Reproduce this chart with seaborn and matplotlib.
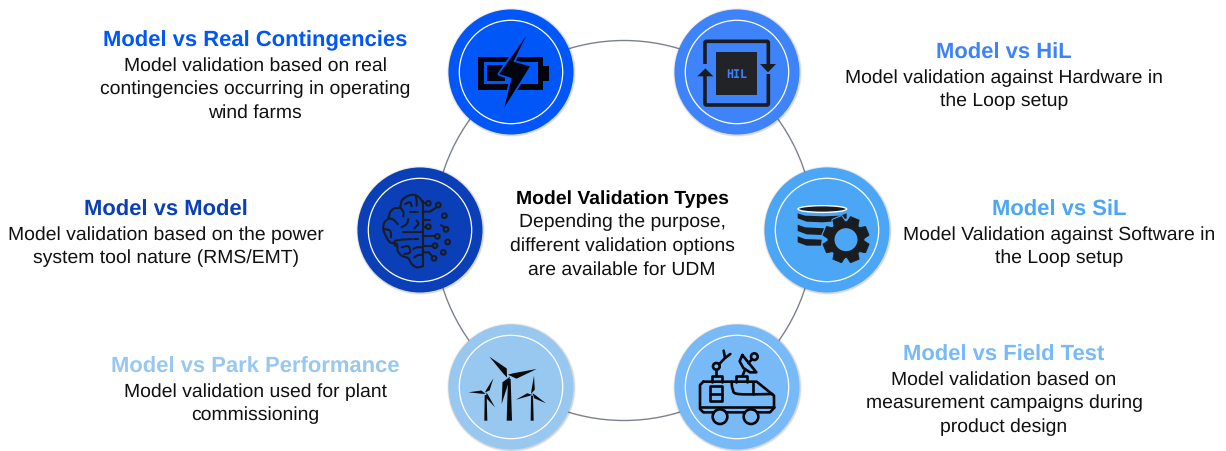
import numpy as np
import pandas as pd
import matplotlib
matplotlib.use("Agg")
import matplotlib.pyplot as plt
from matplotlib.patches import Circle, Polygon, Ellipse, FancyBboxPatch
import seaborn as sns

sns.set_theme(style="white")
plt.rcParams['font.family'] = ['Liberation Sans', 'DejaVu Sans']
plt.rcParams['text.hinting'] = 'no_hinting'

# ---------- content ----------
titles = ["Model vs Real Contingencies", "Model vs HiL", "Model vs Model",
          "Model vs SiL", "Model vs Park Performance", "Model vs Field Test"]
descriptions = [
    ["Model validation based on real", "contingencies occurring in operating", "wind farms"],
    ["Model validation against Hardware in", "the Loop setup"],
    ["Model validation based on the power", "system tool nature (RMS/EMT)"],
    ["Model Validation against Software in", "the Loop setup"],
    ["Model validation used for plant", "commissioning"],
    ["Model validation based on", "measurement campaigns during", "product design"],
]
colors = ["#0056F6", "#3F83FA", "#0A3FB8", "#4BA6F6", "#98C8F0", "#78BAF8"]
node_x = [511, 737, 420, 827, 511, 737]
node_y = [73, 73, 231, 231, 388, 388]
text_x = [255, 1004, 166, 1059, 255, 1004]
title_y = [41, 53, 210, 210, 367, 355]
center_title = "Model Validation Types"
center_lines = ["Depending the purpose,", "different validation options", "are available for UDM"]
INK = "#1b1c1f"

fig = plt.figure(figsize=(12.26, 4.52), dpi=100)
ax = fig.add_axes([0, 0, 1, 1])
ax.set_xlim(0, 1226)
ax.set_ylim(452, 0)
ax.axis("off")

# connecting ring
ax.add_patch(Circle((624, 231.5), 190, fill=False, ec="#7b818c", lw=1.0, zorder=1))

# nodes
PX = 0.72
df = pd.DataFrame({"x": node_x, "y": node_y, "name": titles})
for grow, a in ((1.8, .07), (1.0, .13)):
    sns.scatterplot(data=df, x="x", y="y", s=((62.5 + grow) * 2 * PX) ** 2, color="#333333",
                    alpha=a, linewidth=0, legend=False, ax=ax, zorder=2)
sns.scatterplot(data=df, x="x", y="y", hue="name", palette=dict(zip(titles, colors)),
                s=(62.5 * 2 * PX) ** 2, linewidth=0, legend=False, ax=ax, zorder=3)
ax.scatter(node_x, node_y, s=(51.7 * 2 * PX) ** 2, facecolors="none", edgecolors="white",
           linewidths=0.9, zorder=4)
ax.set_xlabel(""); ax.set_ylabel("")
ax.set_xlim(0, 1226); ax.set_ylim(452, 0)

# text
TS, BS = 15.87, 13.95
LH = 23.6
for i, t in enumerate(titles):
    ax.text(text_x[i], title_y[i], t, color=colors[i], fontsize=TS, fontweight="bold",
            ha="center", va="center")
    for j, ln in enumerate(descriptions[i]):
        ax.text(text_x[i], title_y[i] + 25.0 + j * LH, ln, color="#111111", fontsize=BS,
                ha="center", va="center")
ax.text(622, 199.5, center_title, color="#000000", fontsize=13.95, fontweight="bold", ha="center", va="center")
for j, ln in enumerate(center_lines):
    ax.text(622, 222.5 + j * 23.5, ln, color="#111111", fontsize=BS, ha="center", va="center")

# ---------- icon helpers (zoom-crop coordinates -> pixels) ----------
def Z(ox, oy, pts):
    return [(ox + x / 3, oy + y / 3) for x, y in pts]
def poly(ox, oy, pts, fc=INK, ec="none", lw=0, z=6):
    ax.add_patch(Polygon(Z(ox, oy, pts), closed=True, fc=fc, ec=ec, lw=lw, zorder=z, joinstyle="round"))
def rect(ox, oy, x0, y0, x1, y1, **k):
    poly(ox, oy, [(x0, y0), (x1, y0), (x1, y1), (x0, y1)], **k)
def soften(pts, n=8):
    p = np.array(pts, float)
    if len(p) < 3:
        return p
    q = np.vstack([p[0], p, p[-1]])
    out = []
    for i in range(1, len(q) - 2):
        for t in np.linspace(0, 1, n, endpoint=False):
            out.append(.5 * (2 * q[i] + (q[i + 1] - q[i - 1]) * t +
                             (2 * q[i - 1] - 5 * q[i] + 4 * q[i + 1] - q[i + 2]) * t ** 2 +
                             (3 * q[i] - q[i - 1] - 3 * q[i + 1] + q[i + 2]) * t ** 3))
    out.append(p[-1])
    return np.array(out)
def line(ox, oy, pts, lw=1.5, c=INK, z=6, curved=False):
    p = np.array(Z(ox, oy, soften(pts) if curved else pts))
    ax.plot(p[:, 0], p[:, 1], color=c, lw=lw, zorder=z, solid_capstyle="round", solid_joinstyle="round")
def ring(ox, oy, x, y, r, fc="none", lw=1.5, z=6, ec=INK):
    ax.add_patch(Circle((ox + x / 3, oy + y / 3), r / 3, fc=fc, ec=ec, lw=lw, zorder=z))

# battery
ox, oy, b = 470, 30, colors[0]
K = "#02040d"
rect(ox, oy, 25, 83, 218, 182, fc=K)
rect(ox, oy, 218, 112, 237, 156, fc=K)
rect(ox, oy, 43, 100, 204, 165, fc=b)
rect(ox, oy, 50, 108, 105, 157, fc=K)
bolt = [(168, 22), (130, 98), (180, 112), (103, 235), (125, 147), (88, 135)]
poly(ox, oy, bolt, fc=b, ec=b, lw=2.6, z=7)
poly(ox, oy, bolt, fc=K, z=8)

# HIL
ox, oy, b = 440, 0, colors[1]
ax.add_patch(FancyBboxPatch((440 + 795 / 3, 127 / 3), 190 / 3, 191 / 3, boxstyle="round,pad=0,rounding_size=1.5",
                            fc="none", ec=INK, lw=2.6, zorder=6))
rect(ox, oy, 783, 196, 807, 232, fc=b, z=7)
rect(ox, oy, 973, 195, 997, 226, fc=b, z=7)
rect(ox, oy, 827, 160, 952, 287, fc="#222326", z=7)
poly(ox, oy, [(960, 195), (1008, 195), (984, 220)], z=8)
poly(ox, oy, [(772, 232), (820, 232), (796, 208)], z=8)
ax.text(440 + 891 / 3, 223 / 3, "HIL", color=b, family="DejaVu Sans Mono", fontweight="bold",
        fontsize=8.4, ha="center", va="center", zorder=9)

# brain
ox, oy = 375, 190
line(ox, oy, [(143, 232), (125, 235), (110, 225), (100, 208), (80, 200), (68, 185), (65, 165), (45, 160),
              (32, 140), (25, 120), (28, 100), (40, 88), (45, 70), (58, 58), (75, 55), (80, 35), (100, 20),
              (120, 18), (135, 28), (143, 40)], curved=True)
line(ox, oy, [(143, 35), (143, 232)])
for seg in ([(40, 88), (55, 92), (68, 105)], [(75, 55), (85, 68), (85, 82)], [(90, 45), (105, 40), (110, 52)],
            [(122, 20), (125, 35), (125, 50)], [(85, 128), (143, 128)], [(60, 170), (62, 155), (110, 150)],
            [(118, 150), (130, 150)], [(100, 90), (95, 105), (80, 115)], [(125, 95), (130, 105), (118, 118)],
            [(25, 120), (45, 125), (48, 145)], [(80, 175), (100, 172), (105, 190), (88, 195)],
            [(115, 180), (125, 175), (143, 175)], [(118, 205), (130, 198), (143, 198)], [(105, 70), (130, 70)]):
    line(ox, oy, seg, curved=True)
for x, y in [(160, 43), (190, 48), (208, 80), (213, 121), (160, 113), (187, 142), (218, 159), (180, 170),
             (205, 190), (177, 208)]:
    ring(ox, oy, x, y, 7)
for seg in ([(143, 43), (153, 43)], [(143, 68), (165, 68), (184, 55)], [(143, 113), (153, 113)],
            [(143, 142), (180, 142)], [(143, 170), (173, 170)], [(143, 190), (162, 190), (171, 202)],
            [(198, 108), (207, 115)], [(143, 92), (165, 92)]):
    line(ox, oy, seg)

# database + gear
ox, oy, b = 760, 160, colors[3]
ax.add_patch(Ellipse((760 + 187 / 3, 160 + 150 / 3), 146 / 3, 20 / 3, fc=INK, zorder=6))
poly(ox, oy, [(113, 163), (135, 170), (190, 172), (240, 170), (260, 163), (260, 178), (235, 186), (187, 190), (140, 188), (113, 178)])
poly(ox, oy, [(113, 197), (135, 205), (195, 208), (185, 228), (140, 226), (113, 216)])
poly(ox, oy, [(113, 232), (135, 240), (185, 242), (183, 260), (140, 260), (113, 250)])
gx, gy = 760 + 258 / 3, 160 + 242 / 3
teeth = 8
ang, rad = [], []
for k in range(teeth):
    a0 = 2 * np.pi * k / teeth + np.pi / 8
    for da, r in ((-.33, 18), (-.2, 23.5), (.2, 23.5), (.33, 18)):
        ang.append(a0 + da); rad.append(r)
ang, rad = np.array(ang), np.array(rad)
gear = np.c_[gx + rad * np.cos(ang), gy + rad * np.sin(ang)]
ax.add_patch(Polygon(gear, closed=True, fc=b, ec=b, lw=2.2, zorder=7, joinstyle="round"))
ax.add_patch(Polygon(gear, closed=True, fc=INK, ec=INK, lw=0.6, zorder=8, joinstyle="round"))
ax.add_patch(Circle((gx, gy), 11.5, fc=b, ec="none", zorder=9))

# turbines
ox, oy = 440, 320
K = "#08090b"
def blade(hx, hy, tx, ty, w):
    d = np.array([tx - hx, ty - hy], float)
    n = np.array([-d[1], d[0]]) / np.hypot(*d)
    h = np.array([hx, hy], float)
    pts = [h - n * w * .4, h + d * .25 + n * w, tuple(d + h), h + d * .2 - n * w * .4]
    poly(ox, oy, [tuple(p) for p in pts], fc=K)
poly(ox, oy, [(204, 180), (212, 180), (216, 305), (200, 305)], fc=K)
for t in ((148, 113), (290, 150), (185, 255)):
    blade(205, 172, t[0], t[1], 13)
poly(ox, oy, [(134, 228), (140, 228), (142, 305), (133, 305)], fc=K)
for t in ((85, 220), (160, 178), (165, 265)):
    blade(137, 222, t[0], t[1], 7)
poly(ox, oy, [(273, 230), (279, 230), (281, 305), (272, 305)], fc=K)
for t in ((282, 170), (228, 242), (318, 253)):
    blade(276, 225, t[0], t[1], 7)

# truck
ox, oy, b = 695, 345, colors[5]
LW = 1.9
K = "#05070a"
def tline(pts, curved=False):
    line(ox, oy, pts, lw=LW, c=K, curved=curved)
tline([(25, 113), (185, 113), (237, 155), (237, 192), (225, 205), (25, 205), (15, 195), (15, 123), (25, 113)])
tline([(15, 188), (237, 188)])
tline([(110, 113), (113, 135), (130, 150), (232, 150)], curved=True)
tline([(175, 113), (175, 150)])
rect(ox, oy, 45, 127, 80, 172, fc="none", ec=K, lw=LW)
tline([(45, 150), (80, 150)])
ring(ox, oy, 75, 218, 22, fc=b, lw=LW, z=7, ec=K)
ring(ox, oy, 168, 218, 22, fc=b, lw=LW, z=7, ec=K)
tline([(50, 113), (50, 97), (80, 97), (80, 113)])
tline([(64, 78), (64, 97)])
ring(ox, oy, 64, 67, 10, lw=LW, ec=K)
tline([(73, 60), (90, 42), (86, 20)])
tline([(90, 42), (106, 30)])
tline([(122, 113), (122, 97), (155, 97), (155, 113)])
tline([(142, 97), (150, 77)])
tline([(142, 33), (134, 52), (145, 72), (165, 85), (184, 85), (142, 33)])
ring(ox, oy, 178, 38, 10, lw=LW, ec=K)
tline([(160, 57), (170, 47)])

fig.savefig("out.png", dpi=100)
